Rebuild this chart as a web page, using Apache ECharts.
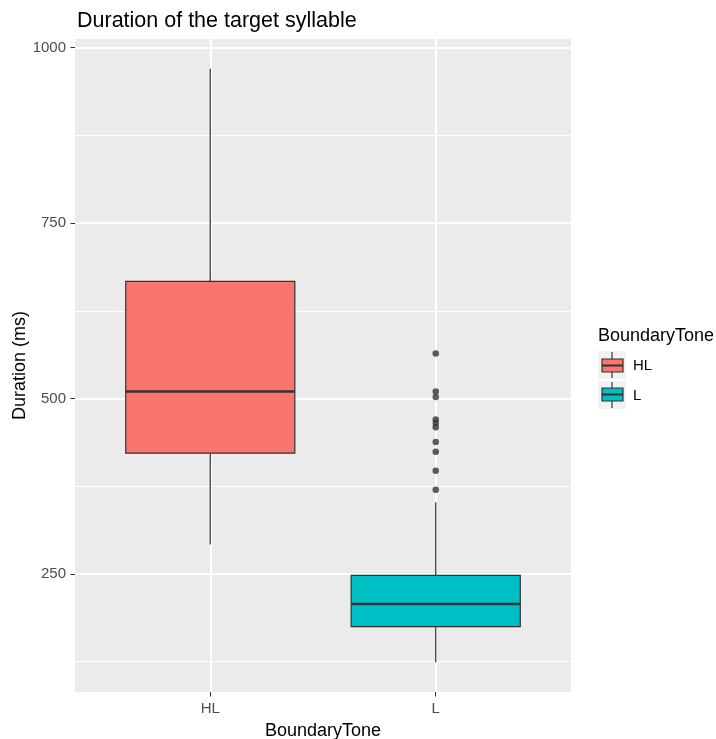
<!DOCTYPE html>
<html>
<head>
<meta charset="utf-8">
<script src="https://cdn.jsdelivr.net/npm/echarts@6/dist/echarts.min.js"></script>
<style>html,body{margin:0;padding:0;background:#fff}#c{width:716px;height:739px}</style>
</head>
<body>
<div id="c"></div>
<script>
const categories = ['HL', 'L'];
// [min whisker, Q1, median, Q3, max whisker]
const hlBox = [292, 422, 510, 667, 970];
const lBox = [124, 175, 207, 248, 352];
const lOutliers = [564, 510, 502, 470, 465, 459, 438, 424, 397, 370];
const yMajorTicks = [250, 500, 750, 1000];
const yMinorTicks = [125, 375, 625, 875];

const fills = ['#F8766D', '#00BFC4'];
const boxes = [hlBox, lBox];
const boxSeriesData = boxes.map((b, i) => [i + 1].concat(b));
const outlierData = lOutliers.map(v => [2, v]);

const chart = echarts.init(document.getElementById('c'), null, {renderer: 'canvas'});
const font = 'Liberation Sans, Arial, sans-serif';

chart.setOption({
  backgroundColor: '#ffffff',
  animation: false,
  title: {
    text: 'Duration of the target syllable',
    left: 72, top: 5,
    textStyle: {fontFamily: font, fontSize: 21.5, fontWeight: 'normal', color: '#000'}
  },
  grid: {left: 75, right: 145, top: 39, bottom: 47, backgroundColor: '#EBEBEB', show: true, borderWidth: 0, outerBoundsMode: 'none', containLabel: false},
  xAxis: {
    type: 'value', min: 0.4, max: 2.6,
    name: 'BoundaryTone', nameLocation: 'middle', nameGap: 30.5, nameMoveOverlap: false,
    nameTextStyle: {fontFamily: font, fontSize: 18, color: '#000'},
    axisLine: {show: false},
    axisTick: {show: true, length: 4.5, lineStyle: {color: '#333', width: 1}, customValues: [1, 2]},
    axisLabel: {customValues: [1, 2], formatter: v => categories[Math.round(v) - 1], fontFamily: font, fontSize: 15, color: '#4D4D4D', margin: 9},
    splitLine: {show: true, lineStyle: {color: '#ffffff', width: 2}}
  },
  yAxis: [{
    type: 'value', min: 81.7, max: 1012.3,
    name: 'Duration (ms)', nameLocation: 'middle', nameGap: 45.5, nameRotate: 90, nameMoveOverlap: false,
    nameTextStyle: {fontFamily: font, fontSize: 18, color: '#000'},
    axisLine: {show: false},
    axisTick: {show: true, length: 4.5, lineStyle: {color: '#333', width: 1}, customValues: yMajorTicks},
    axisLabel: {customValues: yMajorTicks, formatter: v => String(v), fontFamily: font, fontSize: 15, color: '#4D4D4D', margin: 9},
    splitLine: {show: true, lineStyle: {color: '#ffffff', width: 2}}
  }, {
    type: 'value', min: 81.7, max: 1012.3, position: 'left',
    axisLine: {show: false},
    axisTick: {show: true, length: 0, lineStyle: {color: 'rgba(0,0,0,0)'}, customValues: yMinorTicks},
    axisLabel: {show: false, customValues: yMinorTicks},
    splitLine: {show: true, lineStyle: {color: '#ffffff', width: 1}}
  }],
  series: [{
    type: 'custom',
    data: boxSeriesData,
    z: 3,
    encode: {x: 0, y: [1, 2, 3, 4, 5]},
    renderItem: function (params, api) {
      const x = api.value(0);
      const half = 0.375;
      const lo = api.coord([x - half, api.value(2)]);
      const hi = api.coord([x + half, api.value(4)]);
      const med = api.coord([x, api.value(3)]);
      const wmin = api.coord([x, api.value(1)]);
      const wmax = api.coord([x, api.value(5)]);
      const fill = fills[params.dataIndex];
      const stroke = '#333333';
      return {
        type: 'group',
        children: [
          {type: 'line', shape: {x1: wmax[0], y1: wmax[1], x2: wmax[0], y2: hi[1]}, style: {stroke: stroke, lineWidth: 1.2}},
          {type: 'line', shape: {x1: wmin[0], y1: wmin[1], x2: wmin[0], y2: lo[1]}, style: {stroke: stroke, lineWidth: 1.2}},
          {type: 'rect', shape: {x: lo[0], y: hi[1], width: hi[0] - lo[0], height: lo[1] - hi[1]}, style: {fill: fill, stroke: stroke, lineWidth: 1.2}},
          {type: 'line', shape: {x1: lo[0], y1: med[1], x2: hi[0], y2: med[1]}, style: {stroke: stroke, lineWidth: 2.5}}
        ]
      };
    }
  }, {
    type: 'scatter',
    data: outlierData,
    symbol: 'circle',
    symbolSize: 6.5,
    z: 4,
    itemStyle: {color: '#333333'}
  }],
  graphic: [
    {type: 'text', style: {x: 598, y: 336, text: 'BoundaryTone', verticalAlign: 'middle', font: '18px ' + font, fill: '#000'}},
    {type: 'rect', shape: {x: 598, y: 351, width: 28, height: 28}, style: {fill: '#F2F2F2'}},
    {type: 'rect', shape: {x: 598, y: 381, width: 28, height: 28}, style: {fill: '#F2F2F2'}},
    {type: 'line', shape: {x1: 612, y1: 352, x2: 612, y2: 378}, style: {stroke: '#333', lineWidth: 1.2}},
    {type: 'rect', shape: {x: 602, y: 359, width: 21, height: 13}, style: {fill: fills[0], stroke: '#333', lineWidth: 1.2}},
    {type: 'line', shape: {x1: 602, y1: 365.5, x2: 623, y2: 365.5}, style: {stroke: '#333', lineWidth: 2}},
    {type: 'line', shape: {x1: 612, y1: 382, x2: 612, y2: 408}, style: {stroke: '#333', lineWidth: 1.2}},
    {type: 'rect', shape: {x: 602, y: 388, width: 21, height: 13}, style: {fill: fills[1], stroke: '#333', lineWidth: 1.2}},
    {type: 'line', shape: {x1: 602, y1: 394.5, x2: 623, y2: 394.5}, style: {stroke: '#333', lineWidth: 2}},
    {type: 'text', style: {x: 633, y: 366, text: categories[0], verticalAlign: 'middle', font: '15px ' + font, fill: '#000'}},
    {type: 'text', style: {x: 633, y: 396, text: categories[1], verticalAlign: 'middle', font: '15px ' + font, fill: '#000'}}
  ]
});
</script>
</body>
</html>
